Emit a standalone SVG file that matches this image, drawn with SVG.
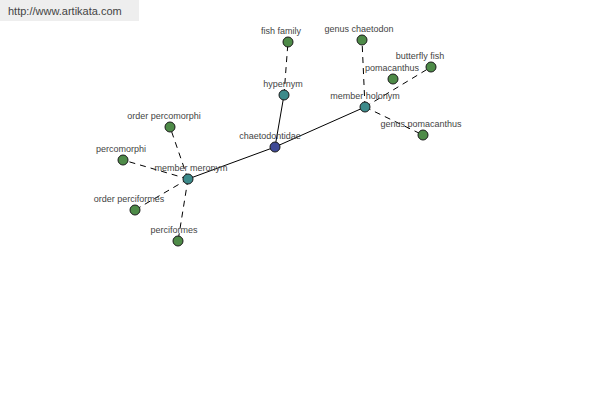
<svg xmlns="http://www.w3.org/2000/svg" width="600" height="400" viewBox="0 0 600 400">
<style>
text{font-family:"Liberation Sans",Arial,sans-serif;font-size:9px;fill:#444;text-anchor:middle}
.e{stroke:#000;stroke-width:1;fill:none}
.d{stroke-dasharray:6 5}
circle{stroke:#1a1a1a;stroke-width:1}
.g{fill:#4e8b48}
.t{fill:#3d8b8b}
.b{fill:#3f4a96}
</style>
<rect x="0" y="0" width="139" height="21" fill="#eeeeee"/>
<text x="8" y="15" style="text-anchor:start;font-size:11px;fill:#444">http://www.artikata.com</text>
<g id="connectors">
<line class="e" x1="275" y1="147" x2="284" y2="95"/>
<line class="e" x1="275" y1="147" x2="365" y2="107"/>
<line class="e" x1="275" y1="147" x2="188" y2="179"/>
<line class="e d" x1="284" y1="95" x2="288" y2="42"/>
<line class="e d" x1="365" y1="107" x2="362" y2="40"/>
<line class="e d" x1="365" y1="107" x2="431" y2="67"/>
<line class="e d" x1="365" y1="107" x2="423" y2="135"/>
<line class="e d" x1="188" y1="179" x2="170" y2="127"/>
<line class="e d" x1="188" y1="179" x2="123" y2="160"/>
<line class="e d" x1="188" y1="179" x2="135" y2="210"/>
<line class="e d" x1="188" y1="179" x2="178" y2="241"/>
</g>
<g id="chaetodontidae"><circle class="b" cx="275" cy="147" r="5"/><text x="270" y="139">chaetodontidae</text></g>
<g id="hypernym"><circle class="t" cx="284" cy="95" r="5"/><text x="283" y="87">hypernym</text></g>
<g id="fish-family"><circle class="g" cx="288" cy="42" r="5"/><text x="281" y="34">fish family</text></g>
<g id="member-holonym"><circle class="t" cx="365" cy="107" r="5"/><text x="365" y="99">member holonym</text></g>
<g id="genus-chaetodon"><circle class="g" cx="362" cy="40" r="5"/><text x="359" y="32">genus chaetodon</text></g>
<g id="pomacanthus"><circle class="g" cx="393" cy="79" r="5"/><text x="392" y="71">pomacanthus</text></g>
<g id="butterfly-fish"><circle class="g" cx="431" cy="67" r="5"/><text x="420" y="59">butterfly fish</text></g>
<g id="genus-pomacanthus"><circle class="g" cx="423" cy="135" r="5"/><text x="421" y="127">genus pomacanthus</text></g>
<g id="member-meronym"><circle class="t" cx="188" cy="179" r="5"/><text x="191" y="171">member meronym</text></g>
<g id="order-percomorphi"><circle class="g" cx="170" cy="127" r="5"/><text x="164" y="119">order percomorphi</text></g>
<g id="percomorphi"><circle class="g" cx="123" cy="160" r="5"/><text x="121" y="152">percomorphi</text></g>
<g id="order-perciformes"><circle class="g" cx="135" cy="210" r="5"/><text x="129" y="202">order perciformes</text></g>
<g id="perciformes"><circle class="g" cx="178" cy="241" r="5"/><text x="174" y="233">perciformes</text></g>
</svg>
